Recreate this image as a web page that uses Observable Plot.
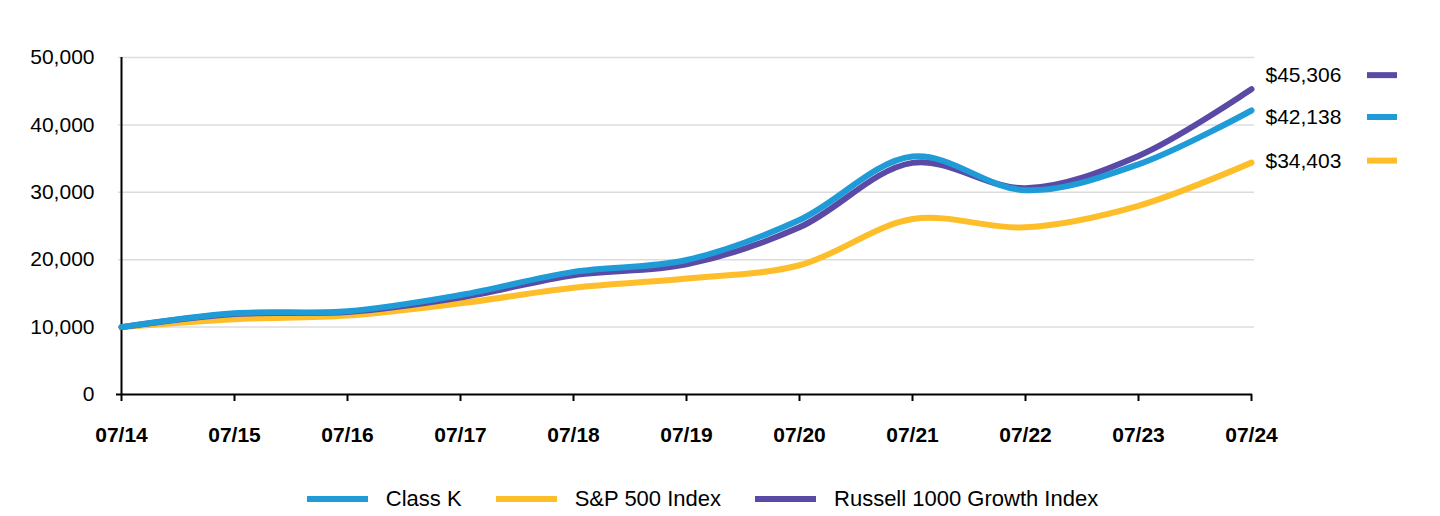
<!DOCTYPE html>
<html>
<head>
<meta charset="utf-8">
<script src="https://cdn.jsdelivr.net/npm/d3@7"></script>
<script src="https://cdn.jsdelivr.net/npm/@observablehq/plot@0.6"></script>
<style>
  body { margin: 0; background: #fff; font-family: "Liberation Sans", Arial, sans-serif; }
  #chart { width: 1440px; }
  #legend { height: 34px; padding-top: 12px; display: flex; justify-content: center; align-items: center; padding-right: 35px; font-size: 22px; color: #000; }
  .item { display: flex; align-items: center; margin: 0 17px; }
  .sw { width: 61px; height: 6px; margin-right: 18px; }
</style>
</head>
<body>
<div id="chart"></div>
<div id="legend"></div>
<script>
const years = ["07/14","07/15","07/16","07/17","07/18","07/19","07/20","07/21","07/22","07/23","07/24"];
const classK  = [10000, 12060, 12350, 14760, 18190, 19950, 25900, 35300, 30300, 34150, 42138];
const sp500   = [10000, 11180, 11720, 13530, 15840, 17200, 19180, 26030, 24800, 28000, 34403];
const russell = [10000, 11950, 12250, 14400, 17700, 19300, 24800, 34370, 30600, 35400, 45306];
const yTicks = [0, 10000, 20000, 30000, 40000, 50000];
const seriesNames = ["Class K", "S&P 500 Index", "Russell 1000 Growth Index"];
const seriesColors = ["#1f9bd7", "#fdbe2a", "#5a4aa6"];
const endLabels = ["$42,138", "$34,403", "$45,306"];

const seriesValues = [classK, sp500, russell];
const drawOrder = [1, 2, 0];
const data = [];
for (const i of drawOrder) {
  seriesValues[i].forEach((v, j) => data.push({name: seriesNames[i], year: years[j], value: v}));
}
const last = years.length - 1;
const ends = seriesNames.map((n, i) => ({name: n, year: years[last], value: seriesValues[i][last], label: endLabels[i]}));
// vertical offsets of end labels (style)
const labelDy = {"Class K": 7, "S&P 500 Index": -1.5, "Russell 1000 Growth Index": -13.5};

const textMarks = ends.map(e => Plot.text([e], {
  x: "year", y: "value", text: "label", dx: 14, dy: labelDy[e.name],
  textAnchor: "start", fill: "#000", fontSize: 21
}));

const chart = Plot.plot({
  width: 1440, height: 470,
  marginLeft: 118, marginRight: 186, marginTop: 57, marginBottom: 76,
  style: {fontFamily: "'Liberation Sans', Arial, sans-serif", fontSize: "21px", color: "#000", background: "#fff"},
  x: {type: "point", domain: years, padding: 0, label: null},
  y: {domain: [0, 50000], label: null},
  color: {domain: seriesNames, range: seriesColors},
  marks: [
    Plot.gridY(yTicks.slice(1), {stroke: "#dcdcdc", strokeOpacity: 1, strokeWidth: 1.5}),
    Plot.axisY({ticks: yTicks, tickSize: 0, tickPadding: 24, tickFormat: d3.format(","), fontSize: 21, label: null}),
    Plot.axisX({tickSize: 7, tickPadding: 26, fontWeight: "bold", fontSize: 21, stroke: "#000", strokeWidth: 2, label: null}),
    Plot.ruleY([0], {stroke: "#000", strokeWidth: 2, dx: -2}),
    Plot.ruleX([years[0]], {y1: 0, y2: 50000, stroke: "#000", strokeWidth: 2}),
    Plot.line(data, {x: "year", y: "value", z: "name", stroke: "name", strokeWidth: 6, curve: "catmull-rom"}),
    ...textMarks
  ]
});
document.getElementById("chart").appendChild(chart);

// short colour swatches beside end labels
const xs = chart.scale("x"), ys = chart.scale("y");
const svg = d3.select(chart);
ends.forEach(e => {
  const x0 = xs.apply(e.year) + 116;
  const y0 = ys.apply(e.value) + labelDy[e.name];
  svg.append("line").attr("x1", x0).attr("x2", x0 + 30).attr("y1", y0).attr("y2", y0)
    .attr("stroke", seriesColors[seriesNames.indexOf(e.name)]).attr("stroke-width", 6);
});

const legend = document.getElementById("legend");
seriesNames.forEach((n, i) => {
  const it = document.createElement("div"); it.className = "item";
  const sw = document.createElement("div"); sw.className = "sw"; sw.style.background = seriesColors[i];
  const tx = document.createElement("span"); tx.textContent = n;
  it.appendChild(sw); it.appendChild(tx); legend.appendChild(it);
});
</script>
</body>
</html>
